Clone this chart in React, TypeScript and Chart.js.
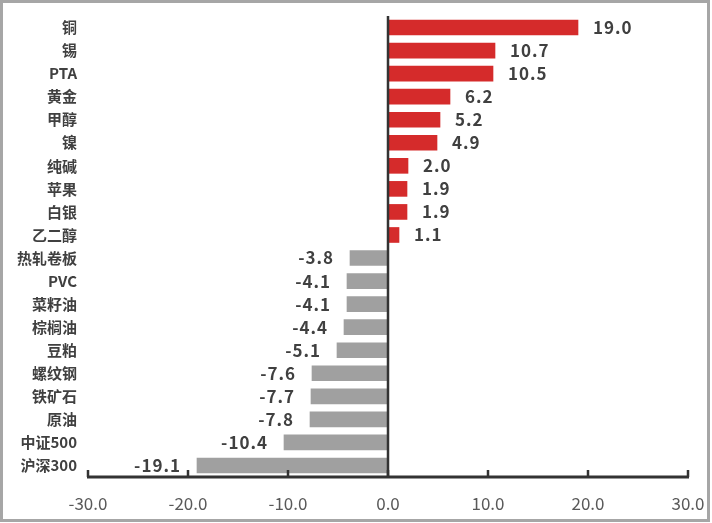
import React, { useEffect, useRef } from "react";
import { Chart, registerables } from "chart.js";

Chart.register(...registerables);

const categories = ["铜", "锡", "PTA", "黄金", "甲醇", "镍", "纯碱", "苹果", "白银", "乙二醇", "热轧卷板", "PVC", "菜籽油", "棕榈油", "豆粕", "螺纹钢", "铁矿石", "原油", "中证500", "沪深300"];
const values = [19.0, 10.7, 10.5, 6.2, 5.2, 4.9, 2.0, 1.9, 1.9, 1.1, -3.8, -4.1, -4.1, -4.4, -5.1, -7.6, -7.7, -7.8, -10.4, -19.1];
const xTicks = [-30, -20, -10, 0, 10, 20, 30];

const POS = "#D52B2B";
const NEG = "#A0A0A0";
const CJK = '"Noto Sans CJK SC", "Noto Sans", sans-serif';

export default function App() {
  const ref = useRef<HTMLCanvasElement | null>(null);
  useEffect(() => {
    document.body.style.margin = "0";
    const ctx = ref.current!.getContext("2d")!;
    const axisPlugin = {
      id: "axisPlugin",
      afterDatasetsDraw(chart: any) {
        const c = chart.ctx;
        const xs = chart.scales.x;
        const area = chart.chartArea;
        c.save();
        c.strokeStyle = "#333333";
        c.lineWidth = 3;
        c.beginPath();
        c.moveTo(xs.getPixelForValue(-30) - 1, area.bottom);
        c.lineTo(xs.getPixelForValue(30) + 1, area.bottom);
        c.stroke();
        c.lineWidth = 2.5;
        for (const t of xTicks) {
          const px = xs.getPixelForValue(t);
          c.beginPath();
          c.moveTo(px, area.bottom);
          c.lineTo(px, area.bottom - 7);
          c.stroke();
        }
        const zx = xs.getPixelForValue(0);
        c.lineWidth = 2.5;
        c.beginPath();
        c.moveTo(zx, area.top);
        c.lineTo(zx, area.bottom);
        c.stroke();
        const meta = chart.getDatasetMeta(0);
        c.font = `bold 17px ${CJK}`;
        (c as any).letterSpacing = "1px";
        c.fillStyle = "#404040";
        c.textBaseline = "middle";
        meta.data.forEach((el: any, i: number) => {
          const v = values[i];
          const txt = v.toFixed(1);
          if (v >= 0) {
            c.textAlign = "left";
            c.fillText(txt, el.x + 15, el.y);
          } else {
            c.textAlign = "right";
            c.fillText(txt, el.x - 16, el.y);
          }
        });
        c.restore();
      },
    };
    const chart = new Chart(ctx, {
      type: "bar",
      data: {
        labels: categories,
        datasets: [
          {
            data: values,
            backgroundColor: values.map((v) => (v >= 0 ? POS : NEG)),
            barThickness: 15,
          },
        ],
      },
      options: {
        indexAxis: "y",
        animation: false,
        responsive: false,
        devicePixelRatio: 1,
        layout: { padding: { top: 16, right: 24, bottom: 0, left: 0 } },
        plugins: { legend: { display: false }, tooltip: { enabled: false } },
        scales: {
          x: {
            min: -30,
            max: 30,
            afterBuildTicks: (s: any) => {
              s.ticks = xTicks.map((v) => ({ value: v }));
            },
            afterFit: (s: any) => {
              s.height = 46;
              s.paddingLeft = 0;
              s.paddingRight = 0;
            },
            grid: { display: false, drawTicks: false },
            border: { display: false },
            ticks: {
              padding: 16,
              color: "#595959",
              font: { family: CJK, size: 17 },
              callback: (v: any) => Number(v).toFixed(1),
            },
          },
          y: {
            afterFit: (s: any) => {
              s.width = 88;
              s.paddingTop = 0;
              s.paddingBottom = 0;
            },
            grid: { display: false, drawTicks: false },
            border: { display: false },
            ticks: {
              padding: 11,
              color: "#404040",
              font: { family: CJK, size: 15, weight: "bold" },
              autoSkip: false,
            },
          },
        },
      },
      plugins: [axisPlugin],
    });
    return () => chart.destroy();
  }, []);
  return (
    <div style={{ position: "relative", width: 712, height: 523 }}>
      <canvas ref={ref} width={712} height={523} style={{ position: "absolute", left: 0, top: 0 }} />
      <div
        style={{
          position: "absolute",
          left: 0,
          top: 0,
          width: 710,
          height: 522,
          border: "3px solid #A6A6A6",
          boxSizing: "border-box",
          pointerEvents: "none",
        }}
      />
    </div>
  );
}
